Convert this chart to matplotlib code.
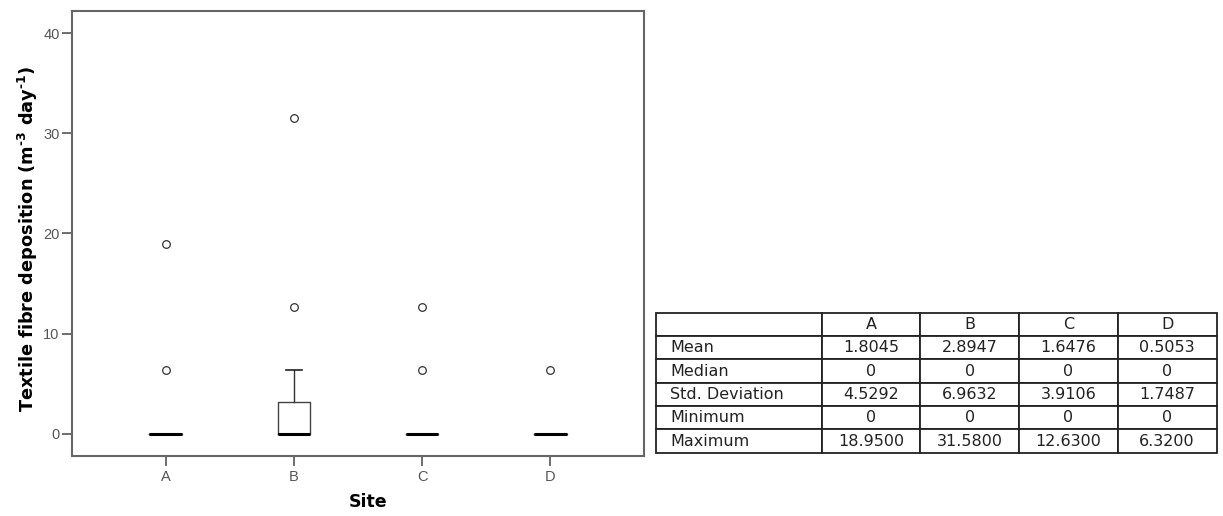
import matplotlib
matplotlib.use("Agg")
import matplotlib.pyplot as plt

# Deposition summary per site
sites = ["A", "B", "C", "D"]
q1 = [0.0, 0.0, 0.0, 0.0]
medians = [0.0, 0.0, 0.0, 0.0]
q3 = [0.0, 3.16, 0.0, 0.0]
whisker_low = [0.0, 0.0, 0.0, 0.0]
whisker_high = [0.0, 6.32, 0.0, 0.0]
outliers = [[6.32, 18.95], [12.63, 31.58], [6.32, 12.63], [6.32]]

# Descriptive statistics table
stat_names = ["Mean", "Median", "Std. Deviation", "Minimum", "Maximum"]
stat_mean = ["1.8045", "2.8947", "1.6476", "0.5053"]
stat_median = ["0", "0", "0", "0"]
stat_std = ["4.5292", "6.9632", "3.9106", "1.7487"]
stat_min = ["0", "0", "0", "0"]
stat_max = ["18.9500", "31.5800", "12.6300", "6.3200"]

W, H, DPI = 1223, 516, 100
fig = plt.figure(figsize=(W / DPI, H / DPI), dpi=DPI)

ax_l, ax_r, ax_t, ax_b = 72, 644, 11, 456
ax = fig.add_axes([ax_l / W, 1 - ax_b / H, (ax_r - ax_l) / W, (ax_b - ax_t) / H])

stats = []
for i, s in enumerate(sites):
    stats.append(dict(label=s, med=medians[i], q1=q1[i], q3=q3[i],
                      whislo=whisker_low[i], whishi=whisker_high[i],
                      fliers=outliers[i]))

positions = list(range(1, len(sites) + 1))
ax.bxp(stats, positions=positions, widths=0.254, showfliers=True,
       boxprops=dict(color="#444444", linewidth=1.0),
       whiskerprops=dict(color="#333333", linewidth=1.0),
       capprops=dict(color="#222222", linewidth=1.2),
       medianprops=dict(color="black", linewidth=2.2, solid_capstyle="butt"),
       flierprops=dict(marker="o", markersize=5.5, markerfacecolor="none",
                       markeredgecolor="#333333", markeredgewidth=0.9))

ax.set_xlim(0.27, 4.73)
ax.set_ylim(-2.23, 42.23)
ax.set_yticks([0, 10, 20, 30, 40])
ax.set_xticks(positions)
ax.set_xticklabels(sites)

for sp in ax.spines.values():
    sp.set_color("#666666")
    sp.set_linewidth(1.5)
ax.tick_params(axis="both", direction="out", length=7, width=1.2,
               color="#555555", labelcolor="#555555", labelsize=10.5)
for lab in ax.get_xticklabels() + ax.get_yticklabels():
    lab.set_family("Liberation Sans")
ax.tick_params(axis="y", pad=2)
ax.tick_params(axis="x", pad=3)

ax.set_xlabel("Site", fontsize=12.5, fontweight="bold", family="DejaVu Sans")
ax.xaxis.set_label_coords((368 - ax_l) / (ax_r - ax_l), (ax_b - 502) / (ax_b - ax_t))
ax.xaxis.label.set_va("center")
ax.set_ylabel("Textile fibre deposition (m$^{\\mathbf{\u2010}\\mathbf{3}}$ "
              "day$^{\\mathbf{\u2010}\\mathbf{1}}$)",
              fontsize=12.8, fontweight="bold", family="DejaVu Sans")
ax.yaxis.set_label_coords((28 - ax_l) / (ax_r - ax_l), (ax_b - 238.5) / (ax_b - ax_t))
ax.yaxis.label.set_va("center")

# Statistics table on the right
tb_l, tb_r, tb_t, tb_b = 656, 1216.5, 312.7, 452.7
tax = fig.add_axes([tb_l / W, 1 - tb_b / H, (tb_r - tb_l) / W, (tb_b - tb_t) / H])
tax.axis("off")
rows = [[""] + sites]
for name, vals in zip(stat_names, [stat_mean, stat_median, stat_std, stat_min, stat_max]):
    rows.append([name] + vals)
first_w = 165.7
data_w = (tb_r - tb_l - first_w) / 4
col_widths = [first_w] + [data_w] * 4
tot = sum(col_widths)
tbl = tax.table(cellText=rows, colWidths=[c / tot for c in col_widths],
                bbox=[0, 0, 1, 1], cellLoc="center")
tbl.auto_set_font_size(False)
for (r, c), cell in tbl.get_celld().items():
    cell.set_edgecolor("#222222")
    cell.set_linewidth(1.3)
    txt = cell.get_text()
    txt.set_fontsize(11.5)
    txt.set_family("DejaVu Sans")
    txt.set_color("#222222")
    if c == 0:
        txt.set_ha("left")
        cell.PAD = 14 / first_w
        cell._loc = "left"

fig.savefig("out.png", dpi=DPI)
